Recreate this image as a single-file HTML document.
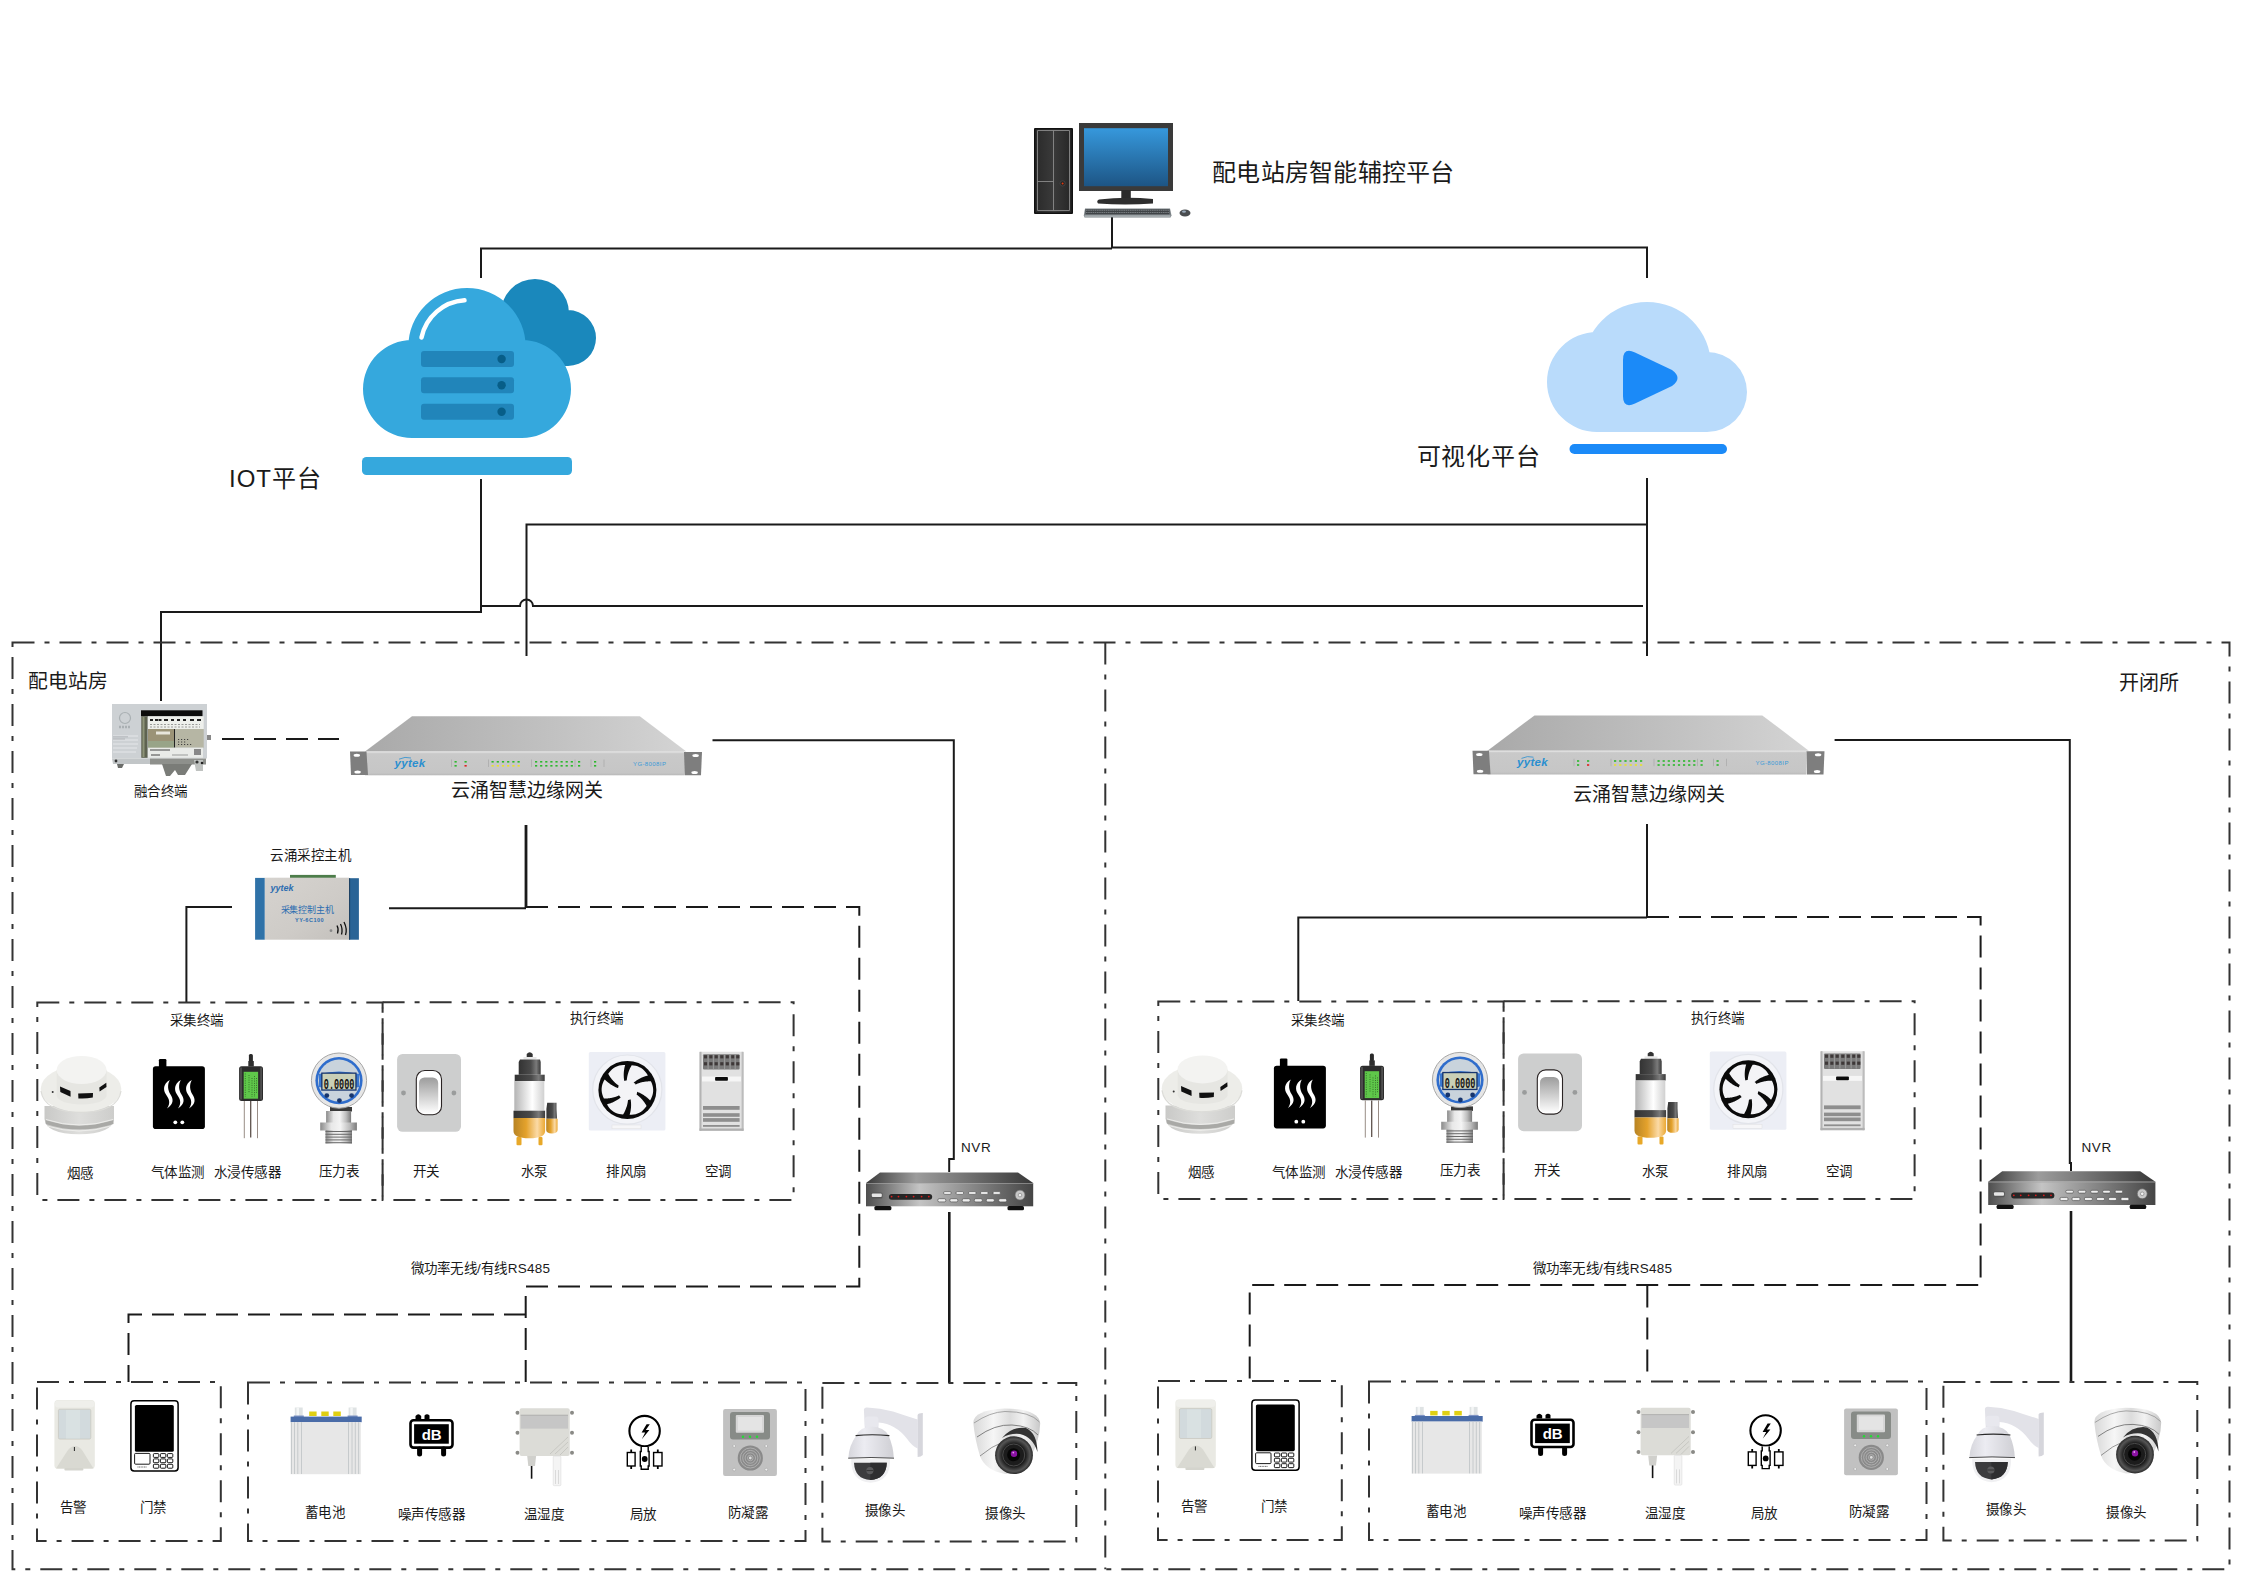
<!DOCTYPE html>
<html lang="zh-CN">
<head>
<meta charset="utf-8">
<style>
html,body{margin:0;padding:0;background:#fff;}
body{width:2245px;height:1587px;overflow:hidden;font-family:"Liberation Sans",sans-serif;}
svg{display:block;}
.s{stroke:#1a1a1a;stroke-width:2;fill:none;}
.d{stroke:#1a1a1a;stroke-width:2;fill:none;stroke-dasharray:22 10;}
.dd{stroke:#333;stroke-width:2;fill:none;stroke-dasharray:22 10 5 10;}
text{font-family:"Liberation Sans",sans-serif;fill:#1a1a1a;}
.t24{font-size:24px;}
.t19{font-size:19px;}
.t13{font-size:13.5px;letter-spacing:0.6px;}
</style>
</head>
<body>
<svg width="2245" height="1587" viewBox="0 0 2245 1587">
<defs>
</defs>
<!-- top connection lines -->
<g id="lines">
<path class="s" d="M1112 217V248.5M481 278V248.5H1112M1112 247.5H1647V278"/>
<path class="s" d="M481 479V612H161V701"/>
<path class="s" d="M482 606H520a6.5 6.5 0 0 1 13 0H1643"/>
<path class="s" d="M526.5 656V524.5H1647"/>
<path class="s" d="M1647 478V656"/>
</g>
<!-- outer border -->
<path class="dd" d="M12.5 642.5H2229.5V1569.3H12.5Z"/>
<path class="dd" d="M1105.3 642.5V1569.3"/>


<!-- computer -->
<g id="computer">
<linearGradient id="scr" x1="0" y1="0" x2="0" y2="1"><stop offset="0" stop-color="#3698dc"/><stop offset="1" stop-color="#1d5585"/></linearGradient>
<linearGradient id="twr" x1="0" y1="0" x2="1" y2="0"><stop offset="0" stop-color="#2a2a2a"/><stop offset="0.5" stop-color="#3a3a3a"/><stop offset="1" stop-color="#262626"/></linearGradient>
<rect x="1034" y="128" width="39" height="86" rx="1" fill="#111"/>
<rect x="1035.5" y="129.5" width="36" height="83" fill="url(#twr)"/>
<path d="M1037.5 130.5H1069.5V210.5H1037.5ZM1053.5 130.5V210.5M1037.5 181.5H1053.5" stroke="#8a8a8a" stroke-width="0.9" fill="none"/>
<circle cx="1062.6" cy="183.4" r="2.6" fill="#222" stroke="#555" stroke-width="0.6"/>
<circle cx="1062.6" cy="183.4" r="1" fill="#e03a10"/>
<rect x="1079" y="123" width="94" height="68" fill="#3a3a3a"/>
<rect x="1084" y="128.2" width="84" height="58" fill="url(#scr)"/>
<rect x="1121.3" y="190" width="9.5" height="9" fill="#2b2b2b"/>
<path d="M1099 199.5Q1125 196.5 1153 199V203.5Q1125 205.5 1098 203.5Q1096 201 1099 199.5Z" fill="#2e2e2e"/>
<path d="M1085 208.5H1170L1171.5 215.5L1170.5 217.5H1084.5L1083.8 215.5Z" fill="#7b8286"/>
<rect x="1085.5" y="209.3" width="84" height="5" fill="#3f4346"/>
<path d="M1086 210.3H1169M1086 212.5H1169" stroke="#9aa0a4" stroke-width="0.6" stroke-dasharray="1.6 0.6"/>
<rect x="1084.5" y="215.3" width="86" height="1.6" fill="#aab0b3"/>
<ellipse cx="1185" cy="213" rx="5.5" ry="3.5" fill="#4a4d50"/>
<ellipse cx="1184" cy="211.6" rx="2" ry="1.2" fill="#9ab"/>
</g>


<!-- IOT cloud -->
<g id="iotcloud">
<path fill="#1a88bc" d="M501 313a34 34 0 1 0 68 0a34 34 0 1 0 -68 0ZM540 338a28 28 0 1 0 56 0a28 28 0 1 0 -56 0ZM505 313V366H568V313Z"/>
<path fill="#35a8dd" d="M363 389a49 49 0 1 0 98 0a49 49 0 1 0 -98 0ZM473 389a49 49 0 1 0 98 0a49 49 0 1 0 -98 0ZM408.3 346.7a58.7 58.7 0 1 0 117.4 0a58.7 58.7 0 1 0 -117.4 0ZM412 380V438H522V380Z"/>
<path d="M421.5 337.5A47 47 0 0 1 464.5 300.3" stroke="#fff" stroke-width="4.5" stroke-linecap="round" fill="none"/>
<rect x="421" y="351" width="93" height="16" rx="3" fill="#2185ba"/>
<rect x="421" y="377.3" width="93" height="16" rx="3" fill="#2185ba"/>
<rect x="421" y="403.7" width="93" height="16" rx="3" fill="#2185ba"/>
<circle cx="501.6" cy="359" r="4.2" fill="#075e88"/>
<circle cx="501.6" cy="385.3" r="4.2" fill="#075e88"/>
<circle cx="501.6" cy="411.7" r="4.2" fill="#075e88"/>
<rect x="362" y="457" width="210" height="18" rx="4.5" fill="#35a8dd"/>
</g>
<!-- video cloud -->
<g id="vidcloud">
<path fill="#b9dbfb" d="M1547 382a50 50 0 1 0 100 0a50 50 0 1 0 -100 0ZM1583 366a64 64 0 1 0 128 0a64 64 0 1 0 -128 0ZM1667 392a40 40 0 1 0 80 0a40 40 0 1 0 -80 0ZM1597 382V432H1707V382Z"/>
<path d="M1623 360Q1623 347 1635 352.5L1672 370Q1683 378 1672 386L1635 403.5Q1623 409 1623 396Z" fill="#1b8af8"/>
<rect x="1569.5" y="444" width="157.5" height="10" rx="5" fill="#1b8af8"/>
</g>


<!-- section lines -->
<g id="seclines">
<path class="d" d="M222 739H339"/>
<path class="s" d="M712.5 740.2H953.8V1159H949.2V1172"/>
<path class="s" d="M949.3 1212V1383" style="stroke-width:2.6"/>
<path class="s" d="M526 825V908" style="stroke-width:2.8"/>
<path class="s" d="M186.4 1002V907H232"/>
<path class="s" d="M389 908.3H526"/>
<path class="d" d="M526 907H859.3V1286.4H525.7V1382"/>
<path class="d" d="M526 1314.5H128.5V1382"/>
<path class="s" d="M1834.6 740H2069.8V1163H2071V1171"/>
<path class="s" d="M2071 1211V1381" style="stroke-width:2.6"/>
<path class="s" d="M1647 824V917"/>
<path class="s" d="M1298.3 1001V917.4H1647"/>
<path class="d" d="M1647 917H1980.6V1285H1249.7V1381"/>
<path class="d" d="M1647.3 1285.6V1381"/>
</g>
<!-- inner boxes (left) -->
<g id="lboxes">
<path class="dd" d="M37.3 1002.5H382.6V1200H37.3Z"/>
<path class="dd" d="M382.6 1002.2H793.6V1200H382.6Z"/>
<path class="dd" d="M37 1382H220.8V1541H37Z"/>
<path class="dd" d="M248 1382.5H805.5V1541H248Z"/>
<path class="dd" d="M822.4 1383H1076.3V1541.5H822.4Z"/>
</g>
<use href="#lboxes" transform="translate(1121,-1)"/>


<linearGradient id="gwtop" x1="0" y1="0" x2="1" y2="0"><stop offset="0" stop-color="#a9a9a9"/><stop offset="0.6" stop-color="#c2c2c2"/><stop offset="1" stop-color="#d4d4d4"/></linearGradient>
<linearGradient id="gwfront" x1="0" y1="0" x2="0" y2="1"><stop offset="0" stop-color="#d6d6d6"/><stop offset="0.12" stop-color="#c9c9c9"/><stop offset="0.9" stop-color="#c6c6c6"/><stop offset="1" stop-color="#b8b8b8"/></linearGradient>
<g id="gateway">
<path d="M412 716.2H639.8L686.3 751.5H365Z" fill="url(#gwtop)"/>
<rect x="365" y="751.3" width="319" height="24" fill="url(#gwfront)"/>
<path d="M365 752.2H684" stroke="#e2e2e2" stroke-width="0.8"/>
<path d="M350 751.6H366.5L368 775H351Z" fill="#7e7e7e"/>
<path d="M684 752H702L701 775.2H684.5Z" fill="#7e7e7e"/>
<ellipse cx="356.8" cy="755.2" rx="3.2" ry="1.5" fill="#fff"/><ellipse cx="357.6" cy="772.1" rx="3.2" ry="1.5" fill="#fff"/>
<ellipse cx="695.6" cy="755.6" rx="3.2" ry="1.5" fill="#fff"/><ellipse cx="694.6" cy="772.4" rx="3.2" ry="1.5" fill="#fff"/>
<text x="394.5" y="767" style="font-size:11.5px;font-style:italic;font-weight:bold;fill:#2a8fd0;letter-spacing:0.3px">yytek</text>
<path d="M399 759.2Q405 756.2 411 758" stroke="#2a8fd0" stroke-width="0.8" fill="none"/>
<text x="633" y="765.5" style="font-size:6px;fill:#3a9ad8;letter-spacing:0.4px">YG-8008IP</text>
<path d="M451.5 759.5V767M488.5 759.5V767M531.5 759.5V767M575 759.5V767M591 759.5V767M604 759.5V767" stroke="#9a9a9a" stroke-width="0.5"/>
<rect x="454.5" y="761" width="2.2" height="1.6" fill="#2db82d"/>
<rect x="464.5" y="761" width="2.2" height="1.6" fill="#2db82d"/>
<rect x="454.5" y="765" width="2.2" height="1.6" fill="#2db82d"/><rect x="464.5" y="765" width="2.2" height="1.6" fill="#e02020"/>
<rect x="491.5" y="761" width="2.2" height="1.6" fill="#2db82d"/><rect x="491.5" y="765" width="2.2" height="1.6" fill="#e8e030"/>
<rect x="496.7" y="761" width="2.2" height="1.6" fill="#2db82d"/><rect x="496.7" y="765" width="2.2" height="1.6" fill="#e8e030"/>
<rect x="501.9" y="761" width="2.2" height="1.6" fill="#2db82d"/><rect x="501.9" y="765" width="2.2" height="1.6" fill="#e8e030"/>
<rect x="507.1" y="761" width="2.2" height="1.6" fill="#2db82d"/><rect x="507.1" y="765" width="2.2" height="1.6" fill="#e8e030"/>
<rect x="512.3" y="761" width="2.2" height="1.6" fill="#2db82d"/><rect x="512.3" y="765" width="2.2" height="1.6" fill="#e8e030"/>
<rect x="517.5" y="761" width="2.2" height="1.6" fill="#2db82d"/><rect x="517.5" y="765" width="2.2" height="1.6" fill="#e8e030"/>
<rect x="535.0" y="761" width="2.2" height="1.6" fill="#2db82d"/><rect x="535.0" y="765" width="2.2" height="1.6" fill="#2db82d"/>
<rect x="540.1" y="761" width="2.2" height="1.6" fill="#2db82d"/><rect x="540.1" y="765" width="2.2" height="1.6" fill="#2db82d"/>
<rect x="545.2" y="761" width="2.2" height="1.6" fill="#2db82d"/><rect x="545.2" y="765" width="2.2" height="1.6" fill="#2db82d"/>
<rect x="550.3" y="761" width="2.2" height="1.6" fill="#2db82d"/><rect x="550.3" y="765" width="2.2" height="1.6" fill="#2db82d"/>
<rect x="555.4" y="761" width="2.2" height="1.6" fill="#2db82d"/><rect x="555.4" y="765" width="2.2" height="1.6" fill="#2db82d"/>
<rect x="560.5" y="761" width="2.2" height="1.6" fill="#2db82d"/><rect x="560.5" y="765" width="2.2" height="1.6" fill="#2db82d"/>
<rect x="565.6" y="761" width="2.2" height="1.6" fill="#2db82d"/><rect x="565.6" y="765" width="2.2" height="1.6" fill="#2db82d"/>
<rect x="570.7" y="761" width="2.2" height="1.6" fill="#2db82d"/><rect x="570.7" y="765" width="2.2" height="1.6" fill="#2db82d"/>
<rect x="578" y="761" width="2.2" height="1.6" fill="#2db82d"/><rect x="578" y="765" width="2.2" height="1.6" fill="#2db82d"/>
<rect x="594" y="761" width="2.2" height="1.6" fill="#2db82d"/><rect x="594" y="765" width="2.2" height="1.6" fill="#2db82d"/>
</g>
<use href="#gateway" transform="translate(1122.5,-0.8)"/>


<!-- 融合终端 -->
<g id="fusion">
<path d="M112 704H207V758.5H112Z" fill="#cdd1d4"/>
<path d="M112 758.5H150V764H113Z" fill="#c2c6c8"/>
<path d="M150 758.5H206V764.5H150Z" fill="#8e908c"/>
<path d="M117 764H124L122 768H118Z" fill="#6b6d6a"/>
<path d="M162 764H192L185 775H178L175 770L170 776H166Z" fill="#7a7c78"/>
<path d="M194 760H203V771H196Z" fill="#bfc2c0"/>
<circle cx="197" cy="762" r="1.6" fill="#333"/><circle cx="202" cy="763" r="1.3" fill="#222"/>
<circle cx="116" cy="761" r="1.4" fill="#333"/>
<rect x="141" y="710.3" width="61.5" height="6" fill="#0c0c0c"/>
<rect x="141.3" y="716.3" width="6.2" height="41.5" fill="#5e6350"/>
<rect x="142.5" y="717" width="2" height="40" fill="#8d9478"/>
<rect x="148" y="716.3" width="55.7" height="12.7" fill="#eef0ec"/>
<path d="M150 720H153M155 720H158M158.5 720H161.5M164 720H168M171 720H174M177 720H180M183 720H186M190 720H194M197 720H201" stroke="#222" stroke-width="2.2"/>
<path d="M150 724.5H200M150 727H200" stroke="#777" stroke-width="0.7" stroke-dasharray="2 1.5"/>
<rect x="148" y="729" width="26" height="18.7" fill="#9b9377"/>
<rect x="156" y="731.5" width="14" height="3" fill="#e8e6dc"/>
<rect x="148" y="741" width="26" height="6.7" fill="#98a488"/>
<rect x="174" y="729" width="1.2" height="18.7" fill="#222"/>
<rect x="175.2" y="729" width="28.5" height="18.7" fill="#b6b6a4"/>
<path d="M178 739.5H190M178 742H186M178 744.5H192" stroke="#333" stroke-width="0.9" stroke-dasharray="1.2 1.8"/>
<rect x="148" y="747.7" width="55" height="10" fill="#e9ebe8"/>
<path d="M150 750H170M151 755H160" stroke="#444" stroke-width="1"/>
<path d="M172 755H188" stroke="#666" stroke-width="0.6"/>
<rect x="194" y="749" width="7" height="6" fill="#888"/>
<circle cx="125" cy="718" r="5.5" fill="none" stroke="#aab0b3" stroke-width="1.2"/>
<path d="M119 727H131" stroke="#aab0b3" stroke-width="2.5" stroke-dasharray="2 1"/>
<path d="M113 736H138M113 740H138M113 744H138M113 748H137M113 752H136" stroke="#e6e8ea" stroke-width="1.1"/>
<path d="M113 736.8H128M113 739H125" stroke="#9aa0a3" stroke-width="0.6"/>
<rect x="207" y="735" width="4" height="5" fill="#888"/>
</g>


<!-- 采控主机 -->
<g id="ckhost">
<linearGradient id="ckc" x1="0" y1="0" x2="1" y2="1"><stop offset="0" stop-color="#d6d3cf"/><stop offset="0.6" stop-color="#cecbc7"/><stop offset="1" stop-color="#c3c0bc"/></linearGradient>
<rect x="290" y="874.9" width="45.8" height="3.5" fill="#4d7d4a"/>
<rect x="264.6" y="877.7" width="84.5" height="62" fill="url(#ckc)"/>
<rect x="255.1" y="877.9" width="9.6" height="61.8" fill="#2f72a8"/>
<rect x="349.1" y="878.2" width="9.8" height="61.5" fill="#2a6496"/>
<rect x="349.1" y="878.2" width="1" height="61.5" fill="#1b3e5e"/>
<text x="270.5" y="891" style="font-size:9px;font-style:italic;font-weight:bold;fill:#2b6cb0">yytek</text>
<text x="280.5" y="913" style="font-size:9px;fill:#2b6cb0;letter-spacing:-0.1px">采集控制主机</text>
<text x="295" y="922.3" style="font-size:5.5px;fill:#2b6cb0;font-weight:bold;letter-spacing:0.5px">YY-6C100</text>
<circle cx="331" cy="930.7" r="1.4" fill="#888"/>
<path d="M337 925.5Q339 929 337.5 933.5M340.5 924Q343 929 341.5 934.5M344 922Q347.5 929 345.5 935" stroke="#111" stroke-width="1.3" fill="none"/>
</g>


<!-- NVR -->
<linearGradient id="nvrtop" x1="0" y1="0" x2="1" y2="0"><stop offset="0" stop-color="#3a3a3a"/><stop offset="0.3" stop-color="#9c9c9c"/><stop offset="0.55" stop-color="#7a7a7a"/><stop offset="1" stop-color="#383838"/></linearGradient>
<linearGradient id="nvrfr" x1="0" y1="0" x2="1" y2="0"><stop offset="0" stop-color="#4e4e4e"/><stop offset="0.32" stop-color="#c4c4c4"/><stop offset="0.6" stop-color="#8e8e8e"/><stop offset="1" stop-color="#454545"/></linearGradient>
<g id="nvr">
<path d="M880 1172.6H1018L1033.2 1183H866Z" fill="url(#nvrtop)"/>
<rect x="866" y="1183" width="167.2" height="23.3" fill="url(#nvrfr)"/>
<path d="M866 1183.5H1033.2" stroke="#aaa" stroke-width="0.6"/>
<rect x="874.4" y="1206" width="17" height="4.3" rx="1.5" fill="#111"/>
<rect x="1007.5" y="1206" width="16.5" height="4.3" rx="1.5" fill="#111"/>
<rect x="871" y="1192.5" width="11.5" height="6" rx="1.5" fill="#555"/>
<rect x="871.8" y="1193.5" width="10" height="3.5" rx="1" fill="#e6e6e6"/>
<rect x="888.9" y="1193.9" width="43.3" height="5.8" rx="2.9" fill="#262626"/>
<g fill="#e21a1a"><circle cx="891.6" cy="1196.6" r="0.9"/><circle cx="898.5" cy="1196.6" r="0.9"/><circle cx="906.4" cy="1196.6" r="0.9"/><circle cx="913.6" cy="1196.6" r="0.9"/><circle cx="921.6" cy="1196.6" r="0.9"/><circle cx="928.8" cy="1196.6" r="0.9"/></g>
<g fill="#eee" stroke="#444" stroke-width="0.6">
<rect x="943.6" y="1191.6" width="7.6" height="2.8" rx="1.2"/><rect x="956" y="1191.6" width="7.6" height="2.8" rx="1.2"/><rect x="968.5" y="1191.6" width="7.6" height="2.8" rx="1.2"/><rect x="980.5" y="1191.6" width="7.6" height="2.8" rx="1.2"/><rect x="993" y="1191.6" width="7.4" height="2.8" rx="1.2"/>
<rect x="937.8" y="1198.7" width="8" height="3.2" rx="1.4"/><rect x="949.8" y="1198.7" width="8" height="3.2" rx="1.4"/><rect x="962.2" y="1198.7" width="8" height="3.2" rx="1.4"/><rect x="974.3" y="1198.7" width="8" height="3.2" rx="1.4"/><rect x="986.3" y="1198.7" width="8" height="3.2" rx="1.4"/><rect x="998.7" y="1198.7" width="8" height="3.2" rx="1.4"/>
</g>
<circle cx="1020" cy="1195.1" r="5" fill="#c8c8c8" stroke="#666" stroke-width="0.7"/>
<circle cx="1020" cy="1195.1" r="1.8" fill="#eee" stroke="#777" stroke-width="0.6"/>
</g>
<use href="#nvr" transform="translate(1122.2,-1.3)"/>


<!-- left devices -->
<linearGradient id="smkbase" x1="0" y1="0" x2="1" y2="0"><stop offset="0" stop-color="#c9c9c7"/><stop offset="0.5" stop-color="#dededc"/><stop offset="1" stop-color="#cdcdcb"/></linearGradient>
<linearGradient id="pumpw" x1="0" y1="0" x2="1" y2="0"><stop offset="0" stop-color="#b4b4b4"/><stop offset="0.6" stop-color="#ffffff"/><stop offset="1" stop-color="#d0d0d0"/></linearGradient>
<linearGradient id="pumpd" x1="0" y1="0" x2="1" y2="0"><stop offset="0" stop-color="#333"/><stop offset="0.55" stop-color="#4a4a4a"/><stop offset="0.8" stop-color="#7a7a7a"/><stop offset="1" stop-color="#3a3a3a"/></linearGradient>
<linearGradient id="pumpo" x1="0" y1="0" x2="1" y2="0"><stop offset="0" stop-color="#b88424"/><stop offset="0.4" stop-color="#e4a22c"/><stop offset="0.75" stop-color="#fbdaa6"/><stop offset="1" stop-color="#eba832"/></linearGradient>
<linearGradient id="rock" x1="0" y1="0" x2="0" y2="1"><stop offset="0" stop-color="#9c9c9c"/><stop offset="1" stop-color="#ffffff"/></linearGradient>
<linearGradient id="ptzg" x1="0" y1="0" x2="1" y2="0"><stop offset="0" stop-color="#d6d6dc"/><stop offset="0.35" stop-color="#ececf2"/><stop offset="1" stop-color="#cfcfd4"/></linearGradient>
<linearGradient id="domeg" x1="0" y1="0" x2="1" y2="0"><stop offset="0" stop-color="#d8d8d8"/><stop offset="0.3" stop-color="#f6f6f6"/><stop offset="0.55" stop-color="#dcdcdc"/><stop offset="0.75" stop-color="#f2f2f2"/><stop offset="1" stop-color="#c8c8c8"/></linearGradient>
<radialGradient id="lensg" cx="0.5" cy="0.5" r="0.5"><stop offset="0" stop-color="#111"/><stop offset="0.6" stop-color="#1a1a1a"/><stop offset="0.85" stop-color="#555"/><stop offset="1" stop-color="#2a2a2a"/></radialGradient>
<g id="ldev">
<!-- smoke detector -->
<path d="M44.5 1106V1119Q46 1134 79 1134.3Q112 1134 114 1119V1106Z" fill="url(#smkbase)"/>
<path d="M45.5 1120Q79 1131 113.5 1120V1124Q79 1135 45.8 1124Z" fill="#a9a9a6"/><path d="M46 1119.5Q79 1130.5 113 1119.5M47 1126Q79 1136 111 1126" stroke="#f2f2f0" stroke-width="0.8" fill="none"/>
<ellipse cx="81" cy="1089" rx="40.3" ry="23.4" fill="#edede9"/>
<path d="M41 1091Q44 1112 81 1112.4Q118 1112 121 1091" stroke="#dcdcd8" stroke-width="1.2" fill="none"/>
<path d="M56.7 1070V1096Q60 1104 81.6 1104.5Q103 1104 106.6 1096V1070Z" fill="#e6e6e2"/>
<ellipse cx="81.6" cy="1070" rx="25" ry="14" fill="#f3f3f1"/>
<path d="M60 1086.5L70.5 1091L70.6 1096.7L60.3 1092Z" fill="#111"/>
<path d="M78.2 1093.4L93 1093L92.8 1097.5Q85 1099 78.4 1098.4Z" fill="#111"/>
<path d="M99.3 1087.5L106.3 1082.8L106.5 1087L99.6 1091.5Z" fill="#111"/>
<circle cx="52.7" cy="1092" r="1" fill="#333"/>
<!-- gas monitor -->
<rect x="158.9" y="1059" width="7.5" height="9" rx="1.2" fill="#000"/>
<rect x="152.9" y="1066.3" width="52" height="62.7" rx="2.8" fill="#000"/>
<g fill="#fff">
<path d="M169.8 1080C163 1084 163 1090 166 1094.5C169 1099 171 1102.5 167 1108.6C174 1104 173.5 1099 170.5 1094.5C168 1090.5 167 1085 169.8 1080Z"/>
<path d="M180.8 1080C174 1084 174 1090 177 1094.5C180 1099 182 1102.5 178 1108.6C185 1104 184.5 1099 181.5 1094.5C179 1090.5 178 1085 180.8 1080Z"/>
<path d="M191.8 1080C185 1084 185 1090 188 1094.5C191 1099 193 1102.5 189 1108.6C196 1104 195.5 1099 192.5 1094.5C190 1090.5 189 1085 191.8 1080Z"/>
<circle cx="175.3" cy="1122.3" r="1.9"/><circle cx="182.3" cy="1122.3" r="1.9"/>
</g>
<!-- water sensor -->
<rect x="248.9" y="1054.1" width="4" height="8" rx="1.5" fill="#2a2a2a"/>
<rect x="248.3" y="1061" width="5.5" height="5.5" fill="#2e2e2e"/>
<rect x="239.1" y="1066.3" width="23.9" height="34.6" rx="2.5" fill="#2c2c2c"/>
<rect x="240.2" y="1067.5" width="1.6" height="32" fill="#555"/><rect x="260.3" y="1067.5" width="1.6" height="32" fill="#555"/>
<rect x="243.7" y="1071.8" width="14.4" height="26.9" fill="#5fc84a"/>
<path d="M245.3 1073.5V1097M249 1075V1093M252 1078V1097M254.5 1076V1097M256.5 1078V1094" stroke="#1d3a16" stroke-width="0.6" stroke-dasharray="1 1.3"/>
<path d="M244.3 1101V1138.2M257.5 1101V1138.2" stroke="#8d8078" stroke-width="0.9"/>
<path d="M250.7 1101V1137.5" stroke="#5e524c" stroke-width="1.3"/>
<!-- pressure gauge -->
<rect x="330" y="1107" width="22" height="4.5" fill="#3a3a3a"/>
<linearGradient id="fitg" x1="0" y1="0" x2="1" y2="0"><stop offset="0" stop-color="#8a8a8a"/><stop offset="0.3" stop-color="#e8e8e8"/><stop offset="0.55" stop-color="#f4f4f4"/><stop offset="0.8" stop-color="#bdbdbd"/><stop offset="1" stop-color="#7a7a7a"/></linearGradient>
<rect x="326.1" y="1111" width="25" height="13" fill="url(#fitg)"/>
<path d="M320.2 1122.4H356.9V1130.4H320.2Z" fill="url(#fitg)"/>
<rect x="325.5" y="1130" width="26.5" height="13.6" fill="url(#fitg)"/>
<path d="M325.5 1131.5H352M325.5 1134.3H352M325.5 1137.1H352M325.5 1139.9H352M325.5 1142.7H352" stroke="#6a6a6a" stroke-width="1"/>
<circle cx="339" cy="1080.6" r="27.6" fill="#e6e6e6" stroke="#a6a6a6" stroke-width="1"/>
<circle cx="339" cy="1080.6" r="23.6" fill="#2f6dcc"/>
<circle cx="339" cy="1080.6" r="21" fill="#c9d3dc"/>
<path d="M319 1087Q339 1092 359 1087V1074Q339 1069 319 1074Z" fill="#3a78d0"/>
<rect x="321.2" y="1072.5" width="35.4" height="18.2" fill="#17356e"/>
<rect x="322.5" y="1073.8" width="32.8" height="15.6" fill="#c9cfb6"/>
<text x="323.8" y="1088.6" textLength="30.5" lengthAdjust="spacingAndGlyphs" style="font-size:15px;font-weight:bold;fill:#111;font-family:'Liberation Mono',monospace">0.0000</text>
<g fill="#17356e"><circle cx="326.8" cy="1095.6" r="2.4"/><circle cx="339.4" cy="1100.6" r="2.4"/><circle cx="351.6" cy="1095.6" r="2.4"/></g>
<!-- switch -->
<rect x="397.1" y="1054" width="63.9" height="77.8" rx="5.5" fill="#cdcece"/>
<circle cx="403.5" cy="1093" r="2.4" fill="#9a9c9c"/><circle cx="453.9" cy="1093" r="2.4" fill="#9a9c9c"/>
<rect x="416.3" y="1070.5" width="25.2" height="44.2" rx="8.5" fill="#fff" stroke="#2a2424" stroke-width="1.1"/>
<rect x="419" y="1077.5" width="19.2" height="36.2" rx="5.5" fill="url(#rock)"/>
<!-- pump -->
<path d="M526.7 1057V1054Q529.7 1050.5 532.7 1054V1057Z" fill="#333"/>
<rect x="523.5" y="1057" width="13" height="2.6" fill="#e8e8e8"/>
<path d="M520 1059.4H540L540.7 1062V1074.7H518.7V1062Z" fill="url(#pumpd)"/>
<rect x="514.7" y="1074.7" width="30" height="6.4" fill="url(#pumpd)"/>
<rect x="514.3" y="1081.1" width="30" height="29.6" fill="url(#pumpw)"/>
<rect x="513.5" y="1110.7" width="31.6" height="7.4" fill="url(#pumpd)"/>
<path d="M513.5 1118H545.1V1131Q545 1138.2 529.3 1138.3Q513.6 1138.2 513.5 1131Z" fill="url(#pumpo)"/>
<rect x="516.5" y="1137" width="5" height="8.2" rx="1" fill="#e8a828"/>
<rect x="538.5" y="1137" width="4" height="8.2" rx="1" fill="#e8a828"/>
<path d="M547.2 1102.7H556.5V1109L557 1118.8H546.4V1109Z" fill="url(#pumpd)"/>
<path d="M546.2 1118.8H557.6V1130Q557.5 1133.4 552 1133.4Q546.3 1133.4 546.2 1130Z" fill="url(#pumpo)"/>
<!-- fan -->
<rect x="588.8" y="1052" width="76.6" height="78.4" rx="1.5" fill="#eceef5"/>
<circle cx="627.3" cy="1089.6" r="34.6" fill="#f3f4f8" stroke="#e2e4ea" stroke-width="1.2"/>
<circle cx="627.4" cy="1089.9" r="29" fill="#0a0a0a"/>
<path fill="#f3f3f6" d="M626.72 1080.93 L626.75 1080.42 L626.79 1079.92 L626.84 1079.41 L626.90 1078.91 L626.97 1078.41 L627.04 1077.91 L627.12 1077.40 L627.21 1076.90 L627.31 1076.40 L627.42 1075.90 L627.53 1075.40 L627.65 1074.90 L627.78 1074.40 L627.92 1073.91 L628.06 1073.41 L628.22 1072.92 L628.38 1072.43 L628.54 1071.94 L628.72 1071.45 L628.90 1070.96 L629.09 1070.47 L629.29 1069.99 L629.50 1069.51 L629.72 1069.03 L629.94 1068.55 L630.17 1068.07 L630.40 1067.60 L630.65 1067.13 L630.90 1066.66 L631.16 1066.20 L631.43 1065.73 L631.71 1065.27 L631.71 1065.27 L633.68 1065.45 L635.65 1065.80 L637.59 1066.36 L639.46 1067.13 L641.22 1068.12 L642.87 1069.30 L644.36 1070.66 L645.69 1072.17 L646.85 1073.80 L647.85 1075.52 L647.85 1075.52 L647.33 1075.65 L646.81 1075.79 L646.30 1075.93 L645.79 1076.08 L645.28 1076.24 L644.78 1076.41 L644.28 1076.58 L643.78 1076.76 L643.29 1076.95 L642.80 1077.14 L642.32 1077.34 L641.84 1077.55 L641.36 1077.77 L640.89 1077.99 L640.43 1078.21 L639.96 1078.45 L639.51 1078.69 L639.05 1078.94 L638.60 1079.19 L638.16 1079.45 L637.72 1079.72 L637.29 1079.99 L636.86 1080.27 L636.43 1080.55 L636.01 1080.84 L635.60 1081.14 L635.19 1081.44 L634.79 1081.75 L634.39 1082.06 L634.00 1082.39 L633.61 1082.71 L633.23 1083.04Z M634.83 1084.82 L635.28 1084.60 L635.74 1084.38 L636.20 1084.18 L636.67 1083.97 L637.14 1083.78 L637.61 1083.59 L638.08 1083.41 L638.56 1083.24 L639.05 1083.07 L639.53 1082.92 L640.02 1082.76 L640.51 1082.62 L641.01 1082.48 L641.51 1082.35 L642.01 1082.23 L642.51 1082.12 L643.02 1082.01 L643.53 1081.91 L644.04 1081.82 L644.55 1081.73 L645.07 1081.65 L645.59 1081.59 L646.11 1081.52 L646.63 1081.47 L647.16 1081.42 L647.68 1081.38 L648.21 1081.35 L648.74 1081.33 L649.28 1081.31 L649.81 1081.31 L650.34 1081.31 L650.88 1081.32 L650.88 1081.32 L651.72 1083.12 L652.39 1085.00 L652.88 1086.96 L653.14 1088.96 L653.18 1090.98 L652.97 1092.99 L652.54 1094.97 L651.90 1096.87 L651.07 1098.69 L650.08 1100.42 L650.08 1100.42 L649.71 1100.03 L649.33 1099.65 L648.95 1099.28 L648.56 1098.92 L648.17 1098.56 L647.77 1098.20 L647.37 1097.86 L646.97 1097.52 L646.56 1097.19 L646.15 1096.86 L645.73 1096.54 L645.31 1096.23 L644.89 1095.93 L644.46 1095.63 L644.03 1095.34 L643.60 1095.05 L643.16 1094.78 L642.72 1094.51 L642.28 1094.25 L641.83 1093.99 L641.38 1093.75 L640.93 1093.51 L640.47 1093.27 L640.01 1093.05 L639.55 1092.83 L639.09 1092.62 L638.62 1092.42 L638.15 1092.22 L637.68 1092.04 L637.21 1091.86 L636.73 1091.68 L636.25 1091.52Z M635.51 1093.79 L635.93 1094.08 L636.35 1094.37 L636.76 1094.66 L637.17 1094.96 L637.57 1095.27 L637.97 1095.59 L638.36 1095.91 L638.75 1096.24 L639.14 1096.57 L639.52 1096.92 L639.89 1097.26 L640.26 1097.62 L640.63 1097.98 L640.99 1098.34 L641.35 1098.72 L641.70 1099.10 L642.04 1099.48 L642.38 1099.87 L642.72 1100.27 L643.05 1100.67 L643.38 1101.08 L643.70 1101.50 L644.01 1101.92 L644.32 1102.34 L644.62 1102.77 L644.92 1103.21 L645.21 1103.65 L645.49 1104.10 L645.77 1104.55 L646.05 1105.01 L646.31 1105.47 L646.57 1105.94 L646.57 1105.94 L645.43 1107.57 L644.14 1109.10 L642.69 1110.49 L641.09 1111.72 L639.35 1112.76 L637.51 1113.59 L635.58 1114.21 L633.61 1114.60 L631.62 1114.79 L629.63 1114.80 L629.63 1114.80 L629.78 1114.28 L629.92 1113.77 L630.05 1113.25 L630.17 1112.73 L630.29 1112.21 L630.40 1111.70 L630.50 1111.18 L630.59 1110.66 L630.67 1110.14 L630.75 1109.62 L630.82 1109.10 L630.88 1108.58 L630.93 1108.06 L630.97 1107.54 L631.01 1107.02 L631.04 1106.51 L631.06 1105.99 L631.07 1105.47 L631.07 1104.96 L631.07 1104.44 L631.06 1103.93 L631.04 1103.42 L631.01 1102.91 L630.98 1102.40 L630.94 1101.89 L630.89 1101.38 L630.83 1100.88 L630.76 1100.37 L630.69 1099.87 L630.61 1099.37 L630.52 1098.87 L630.42 1098.38Z M628.08 1098.87 L628.05 1099.38 L628.01 1099.88 L627.96 1100.39 L627.90 1100.89 L627.83 1101.39 L627.76 1101.89 L627.68 1102.40 L627.59 1102.90 L627.49 1103.40 L627.38 1103.90 L627.27 1104.40 L627.15 1104.90 L627.02 1105.40 L626.88 1105.89 L626.74 1106.39 L626.58 1106.88 L626.42 1107.37 L626.26 1107.86 L626.08 1108.35 L625.90 1108.84 L625.71 1109.33 L625.51 1109.81 L625.30 1110.29 L625.08 1110.77 L624.86 1111.25 L624.63 1111.73 L624.40 1112.20 L624.15 1112.67 L623.90 1113.14 L623.64 1113.60 L623.37 1114.07 L623.09 1114.53 L623.09 1114.53 L621.12 1114.35 L619.15 1114.00 L617.21 1113.44 L615.34 1112.67 L613.58 1111.68 L611.93 1110.50 L610.44 1109.14 L609.11 1107.63 L607.95 1106.00 L606.95 1104.28 L606.95 1104.28 L607.47 1104.15 L607.99 1104.01 L608.50 1103.87 L609.01 1103.72 L609.52 1103.56 L610.02 1103.39 L610.52 1103.22 L611.02 1103.04 L611.51 1102.85 L612.00 1102.66 L612.48 1102.46 L612.96 1102.25 L613.44 1102.03 L613.91 1101.81 L614.37 1101.59 L614.84 1101.35 L615.29 1101.11 L615.75 1100.86 L616.20 1100.61 L616.64 1100.35 L617.08 1100.08 L617.51 1099.81 L617.94 1099.53 L618.37 1099.25 L618.79 1098.96 L619.20 1098.66 L619.61 1098.36 L620.01 1098.05 L620.41 1097.74 L620.80 1097.41 L621.19 1097.09 L621.57 1096.76Z M619.97 1094.98 L619.52 1095.20 L619.06 1095.42 L618.60 1095.62 L618.13 1095.83 L617.66 1096.02 L617.19 1096.21 L616.72 1096.39 L616.24 1096.56 L615.75 1096.73 L615.27 1096.88 L614.78 1097.04 L614.29 1097.18 L613.79 1097.32 L613.29 1097.45 L612.79 1097.57 L612.29 1097.68 L611.78 1097.79 L611.27 1097.89 L610.76 1097.98 L610.25 1098.07 L609.73 1098.15 L609.21 1098.21 L608.69 1098.28 L608.17 1098.33 L607.64 1098.38 L607.12 1098.42 L606.59 1098.45 L606.06 1098.47 L605.52 1098.49 L604.99 1098.49 L604.46 1098.49 L603.92 1098.48 L603.92 1098.48 L603.08 1096.68 L602.41 1094.80 L601.92 1092.84 L601.66 1090.84 L601.62 1088.82 L601.83 1086.81 L602.26 1084.83 L602.90 1082.93 L603.73 1081.11 L604.72 1079.38 L604.72 1079.38 L605.09 1079.77 L605.47 1080.15 L605.85 1080.52 L606.24 1080.88 L606.63 1081.24 L607.03 1081.60 L607.43 1081.94 L607.83 1082.28 L608.24 1082.61 L608.65 1082.94 L609.07 1083.26 L609.49 1083.57 L609.91 1083.87 L610.34 1084.17 L610.77 1084.46 L611.20 1084.75 L611.64 1085.02 L612.08 1085.29 L612.52 1085.55 L612.97 1085.81 L613.42 1086.05 L613.87 1086.29 L614.33 1086.53 L614.79 1086.75 L615.25 1086.97 L615.71 1087.18 L616.18 1087.38 L616.65 1087.58 L617.12 1087.76 L617.59 1087.94 L618.07 1088.12 L618.55 1088.28Z M619.29 1086.01 L618.87 1085.72 L618.45 1085.43 L618.04 1085.14 L617.63 1084.84 L617.23 1084.53 L616.83 1084.21 L616.44 1083.89 L616.05 1083.56 L615.66 1083.23 L615.28 1082.88 L614.91 1082.54 L614.54 1082.18 L614.17 1081.82 L613.81 1081.46 L613.45 1081.08 L613.10 1080.70 L612.76 1080.32 L612.42 1079.93 L612.08 1079.53 L611.75 1079.13 L611.42 1078.72 L611.10 1078.30 L610.79 1077.88 L610.48 1077.46 L610.18 1077.03 L609.88 1076.59 L609.59 1076.15 L609.31 1075.70 L609.03 1075.25 L608.75 1074.79 L608.49 1074.33 L608.23 1073.86 L608.23 1073.86 L609.37 1072.23 L610.66 1070.70 L612.11 1069.31 L613.71 1068.08 L615.45 1067.04 L617.29 1066.21 L619.22 1065.59 L621.19 1065.20 L623.18 1065.01 L625.17 1065.00 L625.17 1065.00 L625.02 1065.52 L624.88 1066.03 L624.75 1066.55 L624.63 1067.07 L624.51 1067.59 L624.40 1068.10 L624.30 1068.62 L624.21 1069.14 L624.13 1069.66 L624.05 1070.18 L623.98 1070.70 L623.92 1071.22 L623.87 1071.74 L623.83 1072.26 L623.79 1072.78 L623.76 1073.29 L623.74 1073.81 L623.73 1074.33 L623.73 1074.84 L623.73 1075.36 L623.74 1075.87 L623.76 1076.38 L623.79 1076.89 L623.82 1077.40 L623.86 1077.91 L623.91 1078.42 L623.97 1078.92 L624.04 1079.43 L624.11 1079.93 L624.19 1080.43 L624.28 1080.93 L624.38 1081.42Z"/>
<circle cx="627.5" cy="1090.3" r="10" fill="#f4f4f6"/>
<rect x="612" y="1125" width="29" height="3.8" fill="#f6f6f8" stroke="#ddd" stroke-width="0.4"/>
<!-- AC -->
<rect x="699.5" y="1051.8" width="44.1" height="79" rx="1" fill="#e1e1e1"/>
<rect x="699.5" y="1051.8" width="2" height="79" fill="#b4b4b4"/><rect x="741.6" y="1051.8" width="2" height="79" fill="#bcbcbc"/>
<rect x="703" y="1054.2" width="36.6" height="15.3" rx="1" fill="#7a7a7a"/>
<g fill="#3e3838">
<rect x="704" y="1055.2" width="3.2" height="3.2"/><rect x="709.3" y="1055.2" width="3.2" height="3.2"/><rect x="714.6" y="1055.2" width="3.2" height="3.2"/><rect x="720.2" y="1055.2" width="3.2" height="3.2"/><rect x="725.7" y="1055.2" width="3.2" height="3.2"/><rect x="731.2" y="1055.2" width="3.2" height="3.2"/><rect x="736.2" y="1055.2" width="3.2" height="3.2"/>
<rect x="704" y="1062.2" width="3.2" height="3.2"/><rect x="709.3" y="1062.2" width="3.2" height="3.2"/><rect x="714.6" y="1062.2" width="3.2" height="3.2"/><rect x="720.2" y="1062.2" width="3.2" height="3.2"/><rect x="725.7" y="1062.2" width="3.2" height="3.2"/><rect x="731.2" y="1062.2" width="3.2" height="3.2"/><rect x="736.2" y="1062.2" width="3.2" height="3.2"/>
</g>
<path d="M708.1 1054.5V1069.2M713.4 1054.5V1069.2M718.9 1054.5V1069.2M724.6 1054.5V1069.2M730.1 1054.5V1069.2M735.2 1054.5V1069.2" stroke="#a0a0a0" stroke-width="0.9"/>
<rect x="702" y="1076.5" width="39" height="5" fill="#f6f6f6"/>
<rect x="715.1" y="1077" width="12.8" height="3.8" rx="0.8" fill="#0a0a0a"/>
<g fill="#8e8e8e"><rect x="703" y="1106" width="36.6" height="3.8"/><rect x="703" y="1113.2" width="36.6" height="3.6"/><rect x="703" y="1118.1" width="36.6" height="3.7"/><rect x="703" y="1125" width="36.6" height="1.8"/></g>
<rect x="699.5" y="1128.5" width="44.1" height="2.3" fill="#b0b0b0"/>
<!-- PIR -->
<rect x="54.4" y="1400" width="40.4" height="68.8" rx="3.5" fill="#e9e9e3"/>
<rect x="55" y="1400.5" width="39.2" height="7" rx="3" fill="#efefeb"/>
<path d="M56 1468.5L68 1450Q75 1442 82 1450L93.5 1468.5Z" fill="#d9d9d2"/>
<rect x="58.4" y="1409.2" width="32.4" height="29.9" rx="1.5" fill="#d2dadd" stroke="#c7c6bd" stroke-width="0.7"/>
<rect x="66" y="1410" width="14" height="28.5" fill="#dbe2e4" opacity="0.8"/>
<path d="M74.4 1447V1451" stroke="#222" stroke-width="1"/>
<rect x="64.4" y="1468" width="19" height="2.5" rx="1" fill="#d4d4cd"/>
<!-- door access -->
<rect x="130.9" y="1400.7" width="47.2" height="70.2" rx="3.2" fill="#fff" stroke="#000" stroke-width="1.5"/>
<rect x="134.9" y="1405" width="38.9" height="46.8" rx="1.6" fill="#000"/>
<rect x="134.6" y="1453.4" width="15.4" height="10.8" rx="1" fill="#fff" stroke="#000" stroke-width="0.9"/>
<g fill="#fff" stroke="#000" stroke-width="0.9">
<rect x="153.4" y="1453.6" width="5.4" height="3.8" rx="0.8"/><rect x="160.4" y="1453.6" width="5.4" height="3.8" rx="0.8"/><rect x="167.4" y="1453.6" width="5.4" height="3.8" rx="0.8"/>
<rect x="153.4" y="1458.9" width="5.4" height="3.8" rx="0.8"/><rect x="160.4" y="1458.9" width="5.4" height="3.8" rx="0.8"/><rect x="167.4" y="1458.9" width="5.4" height="3.8" rx="0.8"/>
<rect x="153.4" y="1464.3" width="5.4" height="3.9" rx="0.8"/><rect x="160.4" y="1464.3" width="5.4" height="3.9" rx="0.8"/><rect x="167.4" y="1464.3" width="5.4" height="3.9" rx="0.8"/>
</g>
<path d="M137.5 1467H147" stroke="#333" stroke-width="0.8" stroke-dasharray="1 0.6"/>
<!-- battery -->
<rect x="294.8" y="1407.5" width="7.9" height="9" fill="#dfe3e4"/><rect x="296.5" y="1407.5" width="2.5" height="9" fill="#f4f6f6"/>
<rect x="348.6" y="1407.5" width="8" height="9" fill="#dfe3e4"/><rect x="350.3" y="1407.5" width="2.5" height="9" fill="#f4f6f6"/>
<g fill="#e0cf12"><rect x="309.2" y="1411.5" width="7.4" height="4.5"/><rect x="321.3" y="1411.5" width="7.4" height="4.5"/><rect x="333.3" y="1411.5" width="7.5" height="4.5"/></g>
<rect x="293.8" y="1415.5" width="10" height="1.5" fill="#7f93c4"/><rect x="347.6" y="1415.5" width="10" height="1.5" fill="#7f93c4"/>
<rect x="290.6" y="1416.6" width="71.1" height="5.6" fill="#4a6ca8"/>
<rect x="290.6" y="1422.2" width="70.2" height="52" fill="#e7e7e7"/>
<path d="M291.5 1422.2V1474M294.5 1422.2V1474M297.8 1422.2V1474M301.5 1422.2V1474M348.5 1422.2V1474M352 1422.2V1474M355.3 1422.2V1474M358.6 1422.2V1474" stroke="#c2c6c8" stroke-width="0.9"/>
<!-- dB -->
<path d="M415.5 1419V1416Q418.3 1412.5 421.2 1416V1419ZM424.5 1419V1415.5Q427 1413 429.5 1415.5V1419Z" fill="#000"/>
<rect x="410.5" y="1420.3" width="42" height="27.3" rx="3" fill="#fff" stroke="#000" stroke-width="2.6"/>
<rect x="414.1" y="1424.2" width="34.7" height="19.5" fill="#000"/>
<text x="421.8" y="1439.8" style="font-size:15px;font-weight:bold;fill:#fff;letter-spacing:-0.3px">dB</text>
<path d="M419.6 1449V1454M443.6 1449V1454" stroke="#000" stroke-width="5" stroke-linecap="round"/>
<!-- temp humidity -->
<g fill="#8a8a86"><circle cx="517.5" cy="1412.7" r="2"/><circle cx="517.5" cy="1432.8" r="2"/><circle cx="517.5" cy="1452.7" r="2"/><circle cx="572" cy="1412.7" r="2"/><circle cx="572" cy="1432.8" r="2"/><circle cx="572" cy="1452.7" r="2"/></g>
<rect x="519.6" y="1408.3" width="50.1" height="47.6" rx="2" fill="#dcdcd7"/>
<rect x="520.6" y="1415.2" width="47.4" height="13.4" fill="#c6c6c6"/>
<path d="M520.6 1415.2H568" stroke="#9a9a9a" stroke-width="0.6"/>
<path d="M550 1454L568 1437M555 1454L568 1442M560 1455L568 1447" stroke="#c2c2bd" stroke-width="0.8"/>
<path d="M527.2 1456H536.1L535 1466H528.3Z" fill="#d0d0cc"/>
<path d="M531.6 1466V1478.7" stroke="#111" stroke-width="1.6"/>
<rect x="553.2" y="1456" width="7.7" height="29.7" rx="1" fill="#f4f4f4" stroke="#d6d6d6" stroke-width="0.5"/>
<path d="M555.5 1470V1484M558.5 1470V1484" stroke="#c8c8c8" stroke-width="0.6"/>
<!-- 局放 -->
<circle cx="644.6" cy="1431.1" r="15.2" fill="#fff" stroke="#000" stroke-width="2.1"/>
<path d="M646.6 1424.2L641.6 1432.6H645.2L641.8 1439.2L649.4 1430H645.8L649.8 1424.2Z" fill="#000"/>
<path d="M631.2 1449.5V1452.5M631.2 1466V1469M657.8 1449.5V1452.5M657.8 1466V1469" stroke="#000" stroke-width="1.8"/>
<rect x="627.3" y="1452.5" width="7.8" height="13.5" fill="#fff" stroke="#000" stroke-width="1.4"/>
<rect x="653.6" y="1452.5" width="8.4" height="13.5" fill="#fff" stroke="#000" stroke-width="1.4"/>
<path d="M641.2 1447V1451.5H640.3V1466H641.2V1469.2H648.2V1466H649.1V1451.5H648.2V1447" fill="#fff" stroke="#000" stroke-width="1.4"/>
<circle cx="644.7" cy="1459" r="2.9" fill="#000"/>
<!-- 防凝露 -->
<rect x="723.1" y="1409.1" width="53.8" height="66.8" rx="2" fill="#c1c1c1"/>
<rect x="730" y="1412" width="40" height="27.6" rx="3" fill="#878b87"/>
<rect x="735.8" y="1415" width="28.2" height="17.8" rx="1" fill="#d6d6d6"/>
<rect x="738" y="1417" width="24" height="13.5" fill="#e4e4e4"/>
<g fill="#22dd33"><circle cx="743" cy="1436.8" r="1.2"/><circle cx="750" cy="1436.8" r="1.2"/><circle cx="757" cy="1436.8" r="1.2"/></g>
<g fill="#eee" stroke="#9a9a9a" stroke-width="0.5"><circle cx="734.2" cy="1446" r="1.4"/><circle cx="766.3" cy="1446" r="1.4"/><circle cx="734.2" cy="1469.6" r="1.4"/><circle cx="766.3" cy="1469.6" r="1.4"/></g>
<circle cx="750.3" cy="1458" r="12.6" fill="#8a8a8a"/>
<g fill="none" stroke="#bdbdbd" stroke-width="0.7"><circle cx="750.3" cy="1458" r="10"/><circle cx="750.3" cy="1458" r="7.6"/><circle cx="750.3" cy="1458" r="5.2"/><circle cx="750.3" cy="1458" r="2.8"/></g>
<circle cx="750.3" cy="1458" r="1.4" fill="#ddd"/>
<!-- PTZ camera -->
<path d="M863.9 1410Q864 1407.2 867 1407.4Q880 1407.8 893 1411.5Q905 1415.5 917.6 1419.6V1448.6Q912 1446 907.4 1439.3Q896 1424 878.4 1422.5V1428H864.8Z" fill="#e2e2e8"/>
<path d="M917.6 1415Q918.5 1413 922.8 1413.1V1455Q921 1457 917.6 1457.1Z" fill="#d6d6dc"/>
<rect x="864.8" y="1416.4" width="13.6" height="11" rx="3" fill="#e8e8ee"/>
<path d="M856.4 1435.5Q860 1427 871.5 1426.5Q884 1427 888.6 1435.5Q893.5 1447 893.8 1458H848.4Q849 1445 856.4 1435.5Z" fill="url(#ptzg)"/>
<path d="M855.6 1435.6Q872 1433.8 889.4 1435.6" stroke="#2a2a2a" stroke-width="1.1" fill="none"/>
<path d="M848.2 1458.2Q871 1456.8 894 1458.2" stroke="#3a3a3a" stroke-width="0.9" fill="none"/>
<path d="M851.2 1459H890Q891 1481 870.6 1482.8Q850.5 1481 851.2 1459Z" fill="#f0f0f2"/>
<path d="M854 1462.7H886.8Q886 1479 870.4 1480Q854.8 1479 854 1462.7Z" fill="#3c3c3e"/>
<path d="M870.4 1462.7H886.8Q886 1479 870.4 1480Z" fill="#2e2e30"/>
<circle cx="869.9" cy="1470.6" r="3.6" fill="#5a5a5c"/>
<path d="M866.5 1470.6H873.3" stroke="#2a2a2a" stroke-width="0.8"/>
<!-- dome camera -->
<path d="M973.3 1423Q973 1410 1005 1408.4Q1038 1408.5 1040.2 1423Q1040 1440 1030 1458Q1018 1474 1005 1474Q985 1470 980 1456Q975 1440 973.3 1423Z" fill="url(#domeg)"/>
<path d="M974 1423Q990 1412 1005 1411.5Q1030 1411.5 1039.5 1422" stroke="#888" stroke-width="0.7" fill="none"/>
<path d="M977 1437Q995 1424 1012 1425Q1030 1426 1038 1435" stroke="#555" stroke-width="0.7" fill="none"/>
<path d="M980 1456Q992 1446 1003 1442" stroke="#555" stroke-width="0.6" fill="none"/>
<path d="M1002 1438Q1012 1426 1026 1428Q1037 1433 1037.5 1452Q1033 1437 1020 1434Q1010 1433 1002 1438Z" fill="#333"/>
<circle cx="1014" cy="1455.2" r="18.9" fill="url(#lensg)"/>
<circle cx="1013.7" cy="1455" r="11" fill="#1c1c1c" stroke="#4a4a4a" stroke-width="1"/>
<circle cx="1013.6" cy="1454.8" r="6.5" fill="#060606"/>
<circle cx="1014" cy="1453.8" r="3.2" fill="#8b12a3"/>
<circle cx="1013.3" cy="1452.6" r="0.9" fill="#e0a0ea"/>
</g>
<use href="#ldev" transform="translate(1121,-0.6)"/>

<!-- texts -->
<text class="t24" x="1212" y="181" style="letter-spacing:0.25px">配电站房智能辅控平台</text>
<text class="t24" x="229" y="486.5" style="letter-spacing:1px">IOT平台</text>
<text class="t24" x="1416.5" y="465" style="letter-spacing:0.9px">可视化平台</text>
<text class="t19" x="28" y="688" style="font-size:19.8px">配电站房</text>
<text class="t19" x="2118.5" y="690" style="font-size:20px">开闭所</text>

<text class="t13" x="133.5" y="796">融合终端</text>
<text class="t19" x="450.5" y="797">云涌智慧边缘网关</text>
<text class="t19" x="1573" y="801">云涌智慧边缘网关</text>
<text class="t13" x="270" y="860">云涌采控主机</text>
<text class="t13" x="961" y="1152">NVR</text>
<text class="t13" x="2081.5" y="1152">NVR</text>
<text class="t13" x="410.5" y="1273" style="letter-spacing:0.3px">微功率无线/有线RS485</text>
<text class="t13" x="1532.5" y="1272.5" style="letter-spacing:0.3px">微功率无线/有线RS485</text>
<g id="ltexts">
<text class="t13" x="169.5" y="1025">采集终端</text>
<text class="t13" x="569.5" y="1023">执行终端</text>
<text class="t13" x="66.5" y="1177.5">烟感</text>
<text class="t13" x="150.5" y="1177">气体监测</text>
<text class="t13" x="213.5" y="1177">水浸传感器</text>
<text class="t13" x="318.5" y="1175.5">压力表</text>
<text class="t13" x="412.5" y="1175.5">开关</text>
<text class="t13" x="520.5" y="1176">水泵</text>
<text class="t13" x="606" y="1176">排风扇</text>
<text class="t13" x="704.5" y="1176">空调</text>
<text class="t13" x="59.5" y="1511.5">告警</text>
<text class="t13" x="139.5" y="1511.5">门禁</text>
<text class="t13" x="304.5" y="1516.5">蓄电池</text>
<text class="t13" x="397.5" y="1518.5">噪声传感器</text>
<text class="t13" x="523.5" y="1518.5">温湿度</text>
<text class="t13" x="629.5" y="1518.5">局放</text>
<text class="t13" x="727.5" y="1516.5">防凝露</text>
<text class="t13" x="864.5" y="1514.5">摄像头</text>
<text class="t13" x="985" y="1517.5">摄像头</text>
</g>
<use href="#ltexts" transform="translate(1121,-0.5)"/>
</svg>
</body>
</html>
